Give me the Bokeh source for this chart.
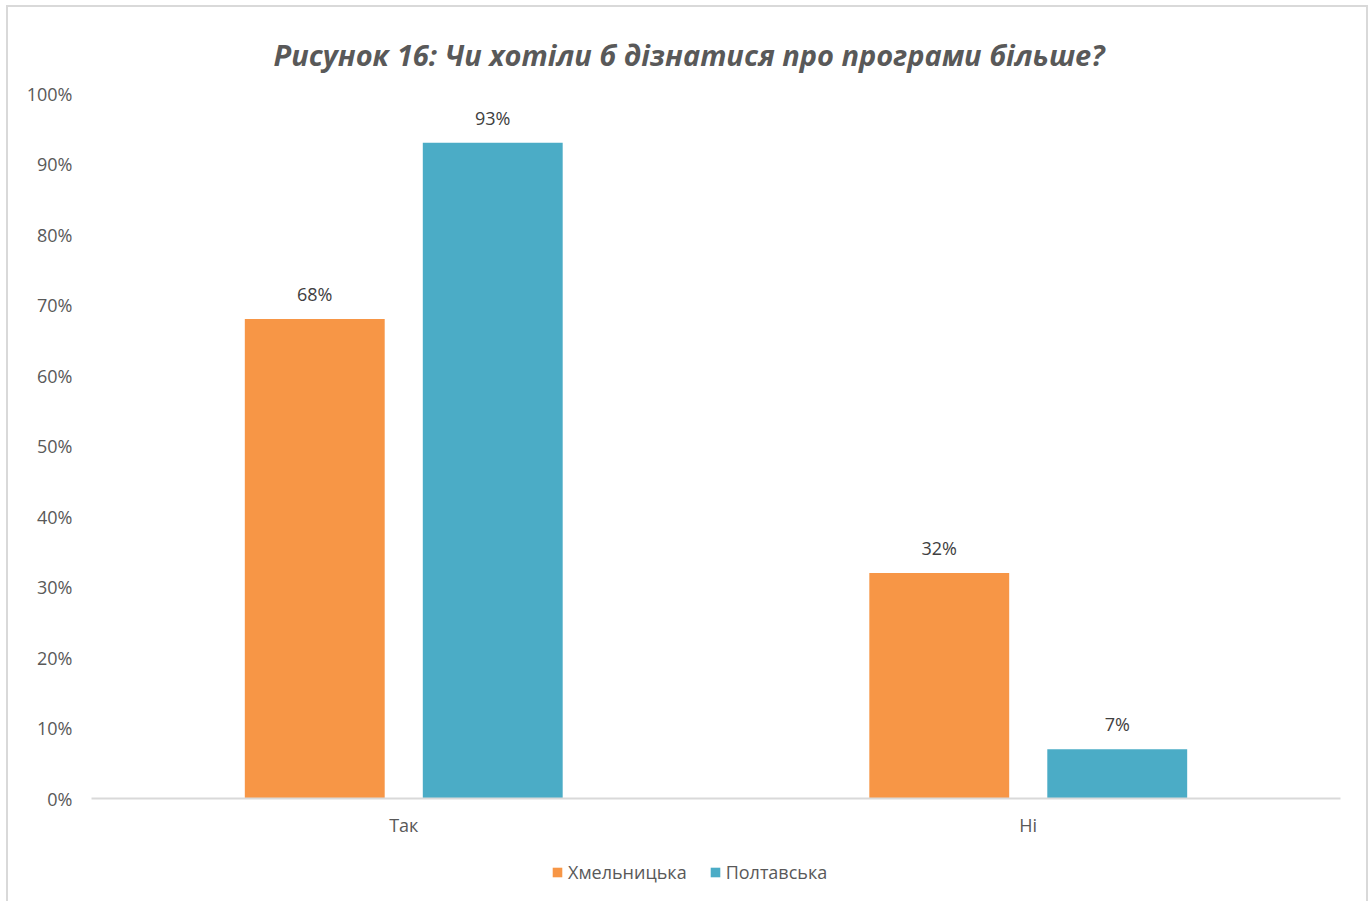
from bokeh.plotting import figure
from bokeh.layouts import column
from bokeh.models import FactorRange, FixedTicker, PrintfTickFormatter, ColumnDataSource, LabelSet, Legend, LegendItem, Title
from bokeh.core.properties import value
from bokeh.transform import dodge
from bokeh.embed import file_html
from bokeh.resources import INLINE

categories = ["Так", "Ні"]
series_names = ["Хмельницька", "Полтавська"]
khmelnytska = [68, 32]
poltavska = [93, 7]
colors = ["#F79646", "#4BACC6"]
y_ticks = [0, 10, 20, 30, 40, 50, 60, 70, 80, 90, 100]
title_text = "Рисунок 16: Чи хотіли б дізнатися про програми більше?"

FONT = "Open Sans"
TXT = "#595959"
W = 1358

src = ColumnDataSource(dict(
    cat=categories,
    a=khmelnytska,
    b=poltavska,
    a_lab=[f"{v}%" for v in khmelnytska],
    b_lab=[f"{v}%" for v in poltavska],
))

p = figure(width=W, height=843, x_range=FactorRange(*categories), y_range=(0, 100),
           output_backend="svg", toolbar_location=None,
           min_border_left=83, min_border_right=26, min_border_top=86, min_border_bottom=52)
p.x_range.range_padding = 0
p.outline_line_color = None
p.background_fill_color = "white"
p.border_fill_color = "white"

t = Title(text=title_text, align="left", offset=182, vertical_align="top",
          text_font=FONT, text_font_size="29px",
          text_font_style="bold italic", text_color=TXT, standoff=36)
p.add_layout(t, "above")

off = 0.1425
w = 0.224
r1 = p.vbar(x=dodge("cat", -off, range=p.x_range), top="a", width=w, source=src,
            fill_color=colors[0], line_color=None)
r2 = p.vbar(x=dodge("cat", off, range=p.x_range), top="b", width=w, source=src,
            fill_color=colors[1], line_color=None)

for fld, o in (("a_lab", -off), ("b_lab", off)):
    ls = LabelSet(x=dodge("cat", o, range=p.x_range), y=fld[0], text=fld, source=src,
                  text_align="center", text_baseline="bottom", y_offset=13,
                  text_font=value(FONT), text_font_size="18px", text_color="#404040")
    p.add_layout(ls)

p.xgrid.grid_line_color = None
p.ygrid.grid_line_color = None

p.yaxis.ticker = FixedTicker(ticks=y_ticks)
p.yaxis.formatter = PrintfTickFormatter(format="%d%%")
p.yaxis.axis_line_color = None
p.yaxis.major_tick_line_color = None
p.yaxis.minor_tick_line_color = None
p.yaxis.major_label_standoff = 13
p.yaxis.major_label_text_font = FONT
p.yaxis.major_label_text_font_size = "18px"
p.yaxis.major_label_text_color = TXT

p.xaxis.axis_line_color = "#d9d9d9"
p.xaxis.axis_line_width = 2
p.xaxis.major_tick_line_color = None
p.xaxis.minor_tick_line_color = None
p.xaxis.major_label_standoff = 8
p.xaxis.major_label_text_font = FONT
p.xaxis.major_label_text_font_size = "18px"
p.xaxis.major_label_text_color = TXT

# legend strip below the chart (hidden copies of the series supply the legend swatches)
lg = figure(width=W, height=51, output_backend="svg", toolbar_location=None,
            x_range=FactorRange(*categories), y_range=(0, 100),
            min_border_left=83, min_border_top=0, min_border_right=26, min_border_bottom=0)
lg.axis.visible = False
lg.grid.visible = False
lg.outline_line_color = None
lg.background_fill_color = "white"
lg.border_fill_color = "white"
d1 = lg.vbar(x="cat", top="a", width=w, source=src, fill_color=colors[0], line_color=None, visible=False)
d2 = lg.vbar(x="cat", top="b", width=w, source=src, fill_color=colors[1], line_color=None, visible=False)
legend = Legend(items=[LegendItem(label=series_names[0], renderers=[d1]),
                       LegendItem(label=series_names[1], renderers=[d2])],
                orientation="horizontal", location=(460, 17),
                label_text_font=FONT, label_text_font_size="18px", label_text_color=TXT,
                glyph_width=12, glyph_height=12, spacing=22, label_standoff=5,
                border_line_color=None, background_fill_alpha=0, margin=0, padding=4)
lg.add_layout(legend, "center")

layout = column(p, lg, spacing=0)
layout.styles = {"border-left": "2px solid #d9d9d9", "border-top": "2px solid #d9d9d9",
                 "border-right": "2px solid #d9d9d9", "margin-left": "6px", "margin-top": "5px"}

open("out.html", "w").write(file_html(layout, INLINE))
